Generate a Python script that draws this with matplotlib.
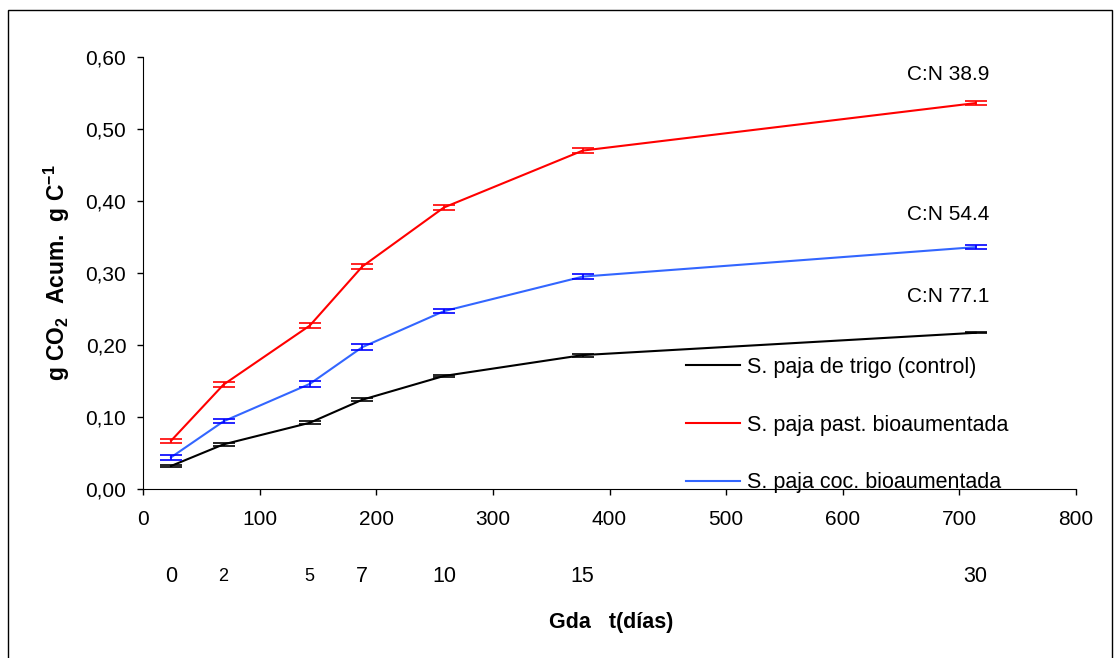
import matplotlib.pyplot as plt
from matplotlib.patches import Rectangle
from matplotlib.ticker import FuncFormatter

plt.rcParams['font.family'] = ['Liberation Sans', 'DejaVu Sans']

# grados dia acumulados y dias de incubacion
gda = [24, 69, 143, 188, 258, 377, 714]
dias = ["0", "2", "5", "7", "10", "15", "30"]

control = [0.032, 0.062, 0.092, 0.124, 0.157, 0.186, 0.217]
pasteur = [0.067, 0.145, 0.227, 0.309, 0.391, 0.470, 0.536]
cocida = [0.044, 0.094, 0.146, 0.197, 0.247, 0.295, 0.336]
err_control = [0.002, 0.002, 0.002, 0.002, 0.002, 0.002, 0.001]
err_pasteur = [0.003, 0.003, 0.004, 0.003, 0.004, 0.004, 0.003]
err_cocida = [0.003, 0.003, 0.004, 0.004, 0.003, 0.003, 0.003]

labels = ["S. paja de trigo (control)", "S. paja past. bioaumentada",
          "S. paja coc. bioaumentada"]
cn_text = ["C:N 77.1", "C:N 38.9", "C:N 54.4"]
cn_y = [0.267, 0.576, 0.381]

fig = plt.figure(figsize=(11.14, 6.58), dpi=100)
ax = fig.add_axes([0.1284, 0.2568, 0.8375, 0.6566])

series = [(control, err_control, 'black', 'black'),
          (pasteur, err_pasteur, 'red', 'red'),
          (cocida, err_cocida, '#3366ff', 'blue')]
handles = []
for (y, e, lc, ec), lab in zip(series, labels):
    ln, = ax.plot(gda, y, color=lc, lw=1.5, label=lab)
    ax.errorbar(gda, y, yerr=e, fmt='none', ecolor=ec, elinewidth=1.2,
                capsize=8, capthick=1.2)
    handles.append(ln)

ax.set_xlim(0, 800)
ax.set_ylim(0, 0.6)
ax.set_xticks(range(0, 801, 100))
ax.set_yticks([0, 0.1, 0.2, 0.3, 0.4, 0.5, 0.6])
ax.yaxis.set_major_formatter(FuncFormatter(lambda v, p: f"{v:.2f}".replace('.', ',')))
ax.tick_params(direction='out', length=4, labelsize=15, width=1)
ax.tick_params(axis='x', pad=11)
ax.tick_params(axis='y', pad=8)
for s in ['top', 'right']:
    ax.spines[s].set_visible(False)

# dias debajo del eje
for xv, d in zip(gda, dias):
    fs = 13 if d in ("2", "5") else 15.5
    ax.annotate(d, xy=(xv, 0), xycoords='data', xytext=(0, -63),
                textcoords='offset points', ha='center', va='center', fontsize=fs,
                annotation_clip=False)
ax.text(0.5016, -0.310, "Gda   t(días)", transform=ax.transAxes, ha='center', va='center',
        fontsize=15.5, fontweight='bold')
ax.set_ylabel(r"g CO$_\mathregular{2}$  Acum.  g C$^\mathregular{-1}$", fontsize=16.5,
              fontweight='bold', labelpad=10)

# relacion C:N
for t, yv in zip(cn_text, cn_y):
    ax.text(690, yv, t, ha='center', va='center', fontsize=15)

ax.legend(handles=handles, loc='upper left', bbox_to_anchor=(0.582, 0.306),
          frameon=False, fontsize=15.5, handlelength=2.5, handletextpad=0.33,
          labelspacing=1.71, borderpad=0, borderaxespad=0)

fig.patches.append(Rectangle((8 / 1114, -0.01), 1104 / 1114, 1 - 10 / 658 + 0.01,
                             transform=fig.transFigure, fill=False, ec='black', lw=1))

fig.savefig("out.png")
